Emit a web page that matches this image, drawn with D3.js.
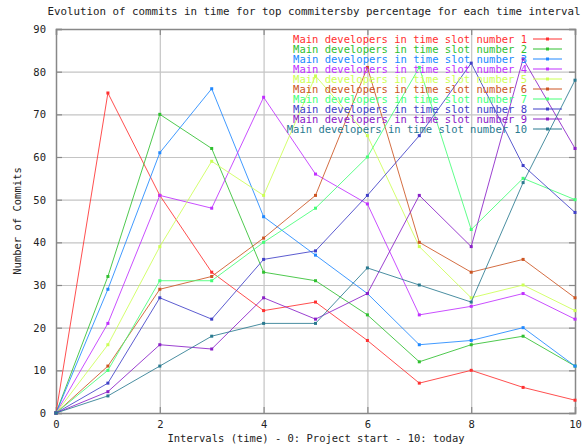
<!DOCTYPE html>
<html><head><meta charset="utf-8">
<script src="https://cdn.jsdelivr.net/npm/d3@7"></script>
<style>body{margin:0;background:#fff}svg{display:block}text{font-family:"DejaVu Sans Mono",monospace;}</style>
</head><body>
<script>
const intervals = [0,1,2,3,4,5,6,7,8,9,10];
const s1  = [0,75,51,33,24,26,17,7,10,6,3];
const s2  = [0,32,70,62,33,31,23,12,16,18,11];
const s3  = [0,29,61,76,46,37,28,16,17,20,11];
const s4  = [0,21,51,48,74,56,49,23,25,28,22];
const s5  = [0,16,39,59,51,79,65,39,27,30,24];
const s6  = [0,11,29,32,41,51,81,40,33,36,27];
const s7  = [0,10,31,31,40,48,60,81,43,55,50];
const s8  = [0,7,27,22,36,38,51,65,82,58,47];
const s9  = [0,5,16,15,27,22,28,51,39,83,62];
const s10 = [0,4,11,18,21,21,34,30,26,54,78];
const seriesNames = [1,2,3,4,5,6,7,8,9,10].map(n => "Main developers in time slot number " + n);
const seriesValues = [s1,s2,s3,s4,s5,s6,s7,s8,s9,s10];
const colors = ["#ff3030","#30c030","#2088ff","#c030ff","#ccff55","#cc5522","#44ff77","#4040c8","#8a20c8","#2a7a90"];
const xTicks = [0,2,4,6,8,10];
const yTicks = [0,10,20,30,40,50,60,70,80,90];
const title = "Evolution of commits in time for top commitersby percentage for each time interval";
const xLabel = "Intervals (time) - 0: Project start - 10: today";
const yLabel = "Number of Commits";

const W = 587, H = 444;
const m = {l:56, r:12, t:29, b:31};
const svg = d3.select("body").append("svg").attr("width",W).attr("height",H);
const x = d3.scaleLinear().domain([0,10]).range([m.l, W-m.r]);
const y = d3.scaleLinear().domain([0,90]).range([H-m.b, m.t]);

// grid
svg.append("g").selectAll("line.gx").data(xTicks.slice(1,-1)).join("line")
  .attr("x1",d=>x(d)+0.5).attr("x2",d=>x(d)+0.5).attr("y1",y(0)).attr("y2",y(90))
  .attr("stroke","#c4c4c4").attr("stroke-width",1.2);
svg.append("g").selectAll("line.gy").data(yTicks.slice(1,-1)).join("line")
  .attr("y1",d=>y(d)+0.5).attr("y2",d=>y(d)+0.5).attr("x1",x(0)).attr("x2",x(10))
  .attr("stroke","#c4c4c4").attr("stroke-width",1.2);

// axes with inward ticks (mirrored)
const fs = "10.5px";
const ax = svg.append("g").attr("transform",`translate(0,${y(0)})`)
  .call(d3.axisBottom(x).tickValues(xTicks).tickSize(-6).tickPadding(8).tickFormat(d3.format("d")));
const axT = svg.append("g").attr("transform",`translate(0,${y(90)})`)
  .call(d3.axisTop(x).tickValues(xTicks).tickSize(-6).tickFormat(""));
const ay = svg.append("g").attr("transform",`translate(${x(0)},0)`)
  .call(d3.axisLeft(y).tickValues(yTicks).tickSize(-6).tickPadding(10).tickFormat(d3.format("d")));
const ayR = svg.append("g").attr("transform",`translate(${x(10)},0)`)
  .call(d3.axisRight(y).tickValues(yTicks).tickSize(-6).tickFormat(""));
[ax,axT,ay,ayR].forEach(g=>{
  g.select(".domain").attr("stroke","#888").attr("stroke-width",1.5);
  g.selectAll(".tick line").attr("stroke","#888").attr("stroke-width",1.2);
  g.selectAll("text").attr("font-family","DejaVu Sans Mono, monospace").attr("font-size",fs).attr("fill","#222");
});

// lines
const line = d3.line().x((d,i)=>x(intervals[i])).y(d=>y(d));
seriesValues.forEach((vals,k)=>{
  const g = svg.append("g");
  g.append("path").datum(vals).attr("d",line).attr("fill","none")
    .attr("stroke",colors[k]).attr("stroke-width",1).attr("stroke-opacity",0.85);
  g.selectAll("rect").data(vals).join("rect")
    .attr("x",(d,i)=>x(intervals[i])-1.5).attr("y",d=>y(d)-1.5)
    .attr("width",3).attr("height",3).attr("fill",colors[k]);
});

// legend
const lg = svg.append("g");
seriesNames.forEach((name,k)=>{
  const yy = 39 + k*10;
  lg.append("text").attr("x",527).attr("y",yy+3.5).attr("text-anchor","end")
    .attr("font-size",fs).attr("fill",colors[k]).text(name);
  lg.append("line").attr("x1",533).attr("x2",562).attr("y1",yy).attr("y2",yy)
    .attr("stroke",colors[k]).attr("stroke-width",1);
  lg.append("rect").attr("x",546).attr("y",yy-1.5).attr("width",3).attr("height",3).attr("fill",colors[k]);
});

// titles
svg.append("text").attr("x",314).attr("y",15).attr("text-anchor","middle")
  .attr("font-size","10.8px").attr("fill","#222").text(title);
svg.append("text").attr("x",316).attr("y",442).attr("text-anchor","middle")
  .attr("font-size",fs).attr("fill","#222").text(xLabel);
svg.append("text").attr("transform",`translate(21,${(y(0)+y(90))/2}) rotate(-90)`)
  .attr("text-anchor","middle").attr("font-size",fs).attr("fill","#222").text(yLabel);
</script>
</body></html>
